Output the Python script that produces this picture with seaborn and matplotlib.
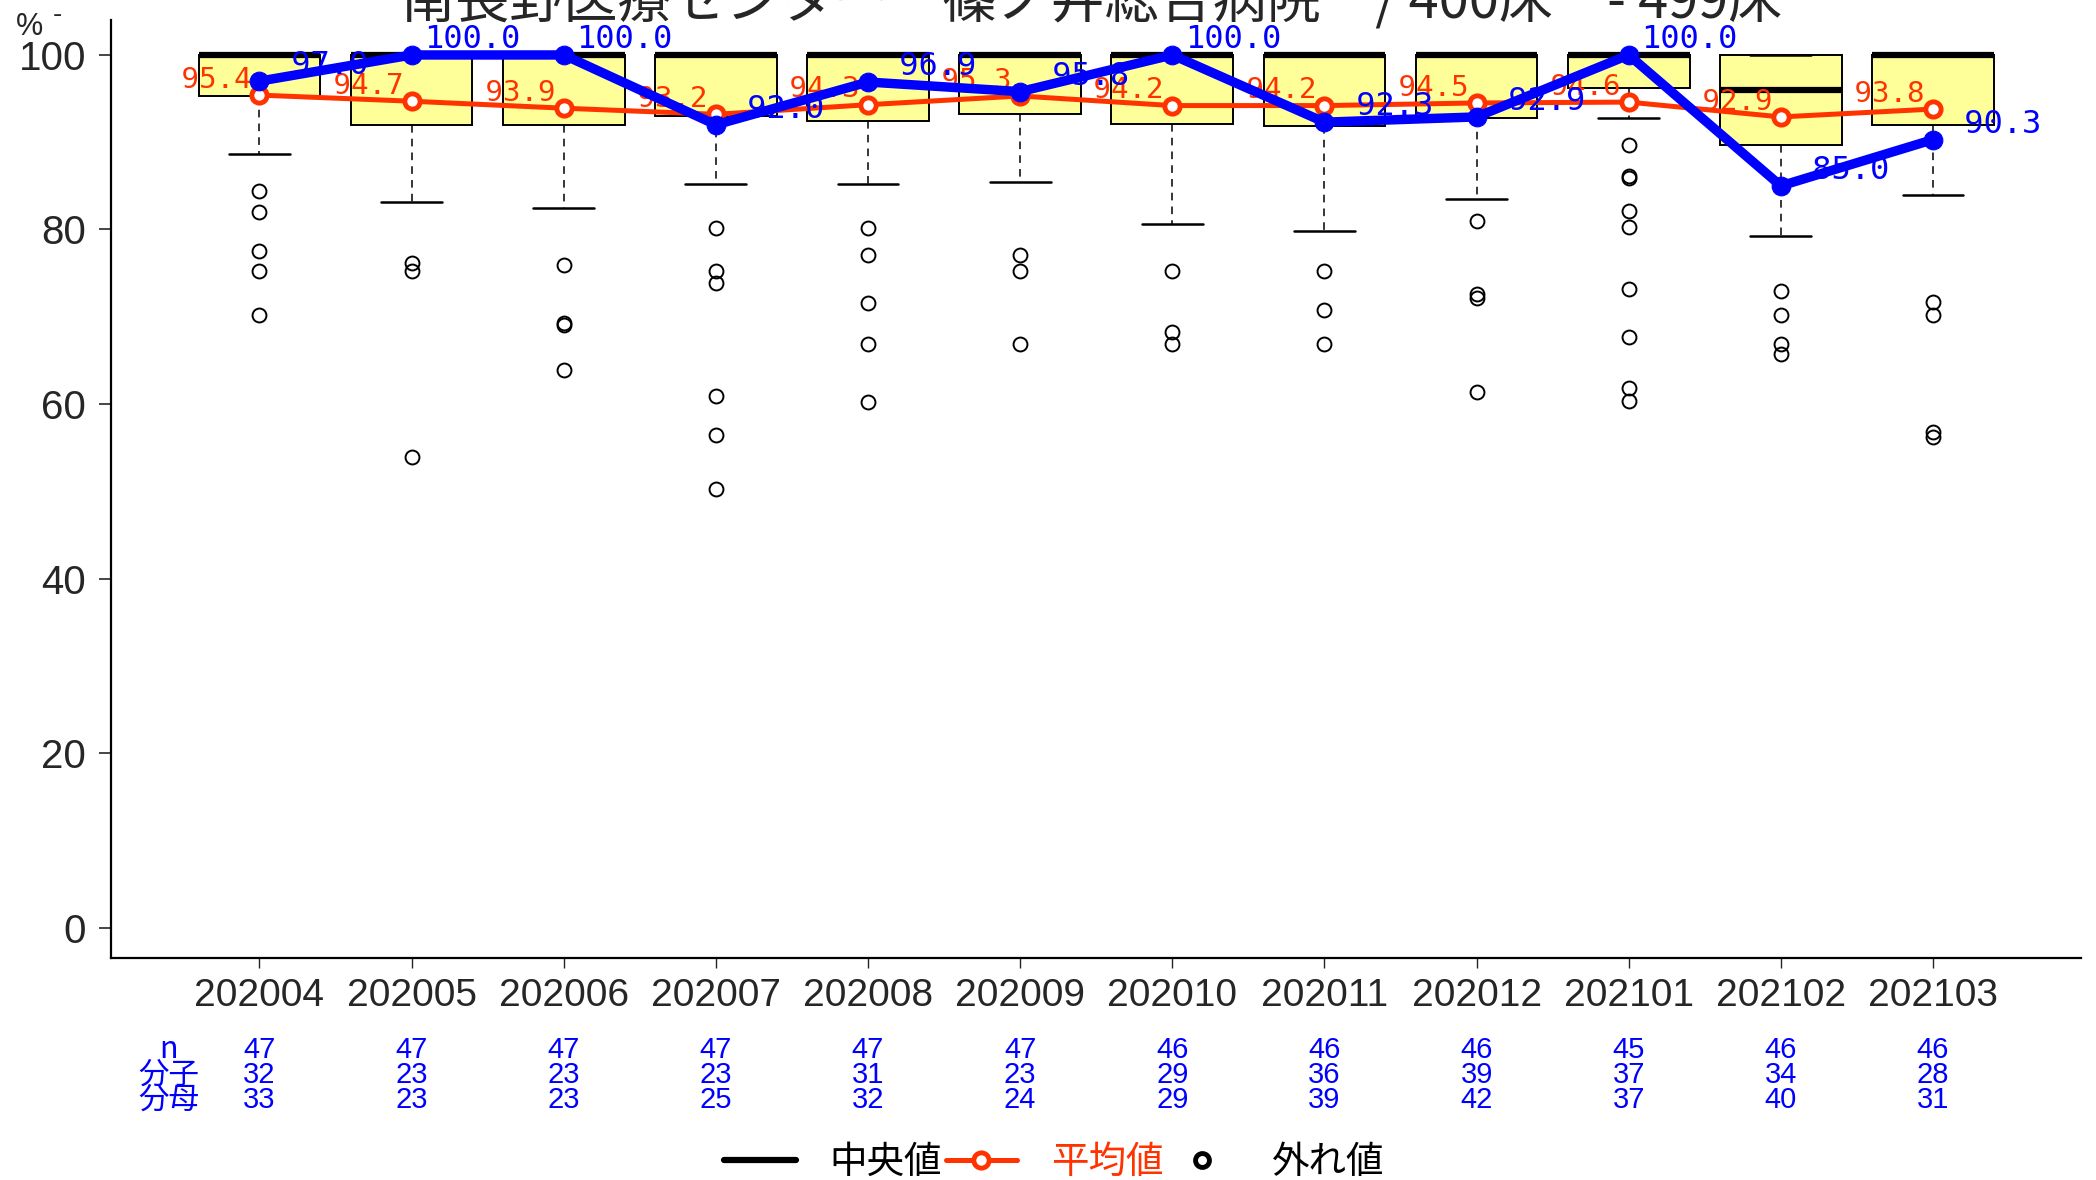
import numpy as np
import pandas as pd
import matplotlib
matplotlib.use('Agg')
import matplotlib.pyplot as plt
import seaborn as sns
from matplotlib.lines import Line2D
from matplotlib.transforms import blended_transform_factory

# data
months = ['202004', '202005', '202006', '202007', '202008', '202009',
          '202010', '202011', '202012', '202101', '202102', '202103']
box_q1 = [95.3, 92.0, 92.0, 93.0, 92.4, 93.2, 92.1, 91.9, 92.8, 96.2, 89.7, 92.0]
box_med = [100, 100, 100, 100, 100, 100, 100, 100, 100, 100, 96.0, 100]
box_q3 = [100, 100, 100, 100, 100, 100, 100, 100, 100, 100, 100, 100]
whisk_lo = [88.6, 83.1, 82.5, 85.2, 85.2, 85.4, 80.6, 79.8, 83.5, 92.8, 79.2, 83.9]
whisk_hi = [100, 100, 100, 100, 100, 100, 100, 100, 100, 100, 100, 100]
outliers = [
    [84.4, 82.0, 77.5, 75.2, 70.2],
    [76.2, 75.2, 53.9],
    [75.9, 69.3, 69.0, 63.9],
    [80.2, 75.2, 73.9, 60.9, 56.5, 50.3],
    [80.2, 77.1, 71.6, 66.9, 60.2],
    [77.1, 75.2, 66.9],
    [75.2, 68.2, 66.9],
    [75.2, 70.8, 66.9],
    [81.0, 72.6, 72.2, 61.4],
    [89.7, 86.1, 85.9, 82.1, 80.3, 73.2, 67.7, 61.8, 60.3],
    [73.0, 70.2, 66.9, 65.7],
    [71.7, 70.2, 56.8, 56.2],
]
mean_vals = [95.4, 94.7, 93.9, 93.2, 94.3, 95.3, 94.2, 94.2, 94.5, 94.6, 92.9, 93.8]
own_vals = [97.0, 100.0, 100.0, 92.0, 96.9, 95.8, 100.0, 92.3, 92.9, 100.0, 85.0, 90.3]
n_hosp = [47, 47, 47, 47, 47, 47, 46, 46, 46, 45, 46, 46]
numer = [32, 23, 23, 23, 31, 23, 29, 36, 39, 37, 34, 28]
denom = [33, 23, 23, 25, 32, 24, 29, 39, 42, 37, 40, 31]

title = '南長野医療センター　篠ノ井総合病院　/ 400床　- 499床'
RED = '#FF3300'
BLUE = '#0000FF'

sns.set_style('ticks')
plt.rcParams['font.family'] = ['Liberation Sans', 'Noto Sans CJK JP']

pos = np.arange(len(months))
df = pd.DataFrame({'pos': pos, 'mean': mean_vals, 'own': own_vals})

fig = plt.figure(figsize=(20.96, 11.8), dpi=100)
ax = fig.add_axes([0.053, 0.188, 0.940, 0.795])

stats = [dict(med=m, q1=a, q3=b, whislo=lo, whishi=hi, fliers=f)
         for m, a, b, lo, hi, f in zip(box_med, box_q1, box_q3, whisk_lo, whisk_hi, outliers)]
ax.bxp(stats, positions=pos, widths=0.8, capwidths=0.4, patch_artist=True,
       manage_ticks=False,
       boxprops=dict(facecolor='#FFFF99', edgecolor='black', linewidth=1.4),
       medianprops=dict(color='black', linewidth=4.5, solid_capstyle='butt'),
       whiskerprops=dict(color='black', linewidth=1.1, linestyle=(0, (5, 4))),
       capprops=dict(color='black', linewidth=1.8),
       flierprops=dict(marker='o', markerfacecolor='none', markeredgecolor='black',
                       markersize=10, markeredgewidth=1.4))

# mean (red) line and labels
for x, v in zip(pos, mean_vals):
    ax.annotate('%5.1f' % v, (x, v), xytext=(-6, 11), textcoords='offset points',
                ha='right', va='center', color=RED, fontsize=21,
                family='DejaVu Sans Mono', zorder=4)
sns.lineplot(data=df, x='pos', y='mean', ax=ax, color=RED, linewidth=3.6,
             marker='o', markersize=11, markerfacecolor='white',
             markeredgecolor=RED, markeredgewidth=3.5, zorder=5)

# own hospital (blue) line and labels
for x, v in zip(pos, own_vals):
    ax.annotate('%5.1f' % v, (x, v), xytext=(9, 11), textcoords='offset points',
                ha='left', va='center', color=BLUE, fontsize=23,
                family='DejaVu Sans Mono', zorder=6)
sns.lineplot(data=df, x='pos', y='own', ax=ax, color=BLUE, linewidth=6.8,
             marker='o', markersize=13.5, markerfacecolor=BLUE,
             markeredgecolor=BLUE, zorder=7)

ax.set_xlim(-0.975, 11.975)
ax.set_ylim(-3.5, 104)
ax.set_yticks([0, 20, 40, 60, 80, 100])
ax.set_xticks(pos)
ax.set_xticklabels(months)
ax.tick_params(axis='y', labelsize=29, length=9, width=1.2, pad=9)
ax.tick_params(axis='x', labelsize=28, length=7, width=1.0, pad=7)
ax.set_xlabel('')
ax.set_ylabel('')
for s in ['top', 'right']:
    ax.spines[s].set_visible(False)
for s in ['left', 'bottom']:
    ax.spines[s].set_linewidth(1.6)
    ax.spines[s].set_color('black')

fig.text(0.0076, 0.9774, '%', fontsize=22, ha='left', va='center')
fig.text(0.0254, 0.9875, '-', fontsize=20, ha='left', va='center')
fig.text(0.521, 0.985, title, fontsize=39, ha='center', va='baseline',
         family='Noto Sans CJK JP')

# counts table under the axis
tr = blended_transform_factory(ax.transData, fig.transFigure)
rows = [('n', n_hosp, 0.1102), ('分子', numer, 0.0890), ('分母', denom, 0.0678)]
for label, vals, yy in rows:
    fig.text(0.0806, yy, label, color=BLUE, fontsize=22, ha='center', va='center',
             family='Noto Sans CJK JP')
    for x, v in zip(pos, vals):
        ax.text(x, yy, str(v), transform=tr, color=BLUE, fontsize=21,
                ha='center', va='center', clip_on=False)

handles = [
    Line2D([], [], color='black', linewidth=4.5),
    Line2D([], [], color=RED, linewidth=3.6, marker='o', markersize=11,
           markerfacecolor='white', markeredgecolor=RED, markeredgewidth=3.5),
    Line2D([], [], linestyle='none', marker='o', markersize=10,
           markerfacecolor='none', markeredgecolor='black', markeredgewidth=3.5),
]
fig.legend(handles, ['中央値', '平均値', '外れ値'], loc='center',
           bbox_to_anchor=(0.503, 0.015), ncol=3, frameon=False,
           prop={'family': 'Noto Sans CJK JP', 'size': 27},
           labelcolor=['black', RED, 'black'], handlelength=1.9,
           handletextpad=0.9, columnspacing=0.1)

fig.savefig('out.png', dpi=100)
